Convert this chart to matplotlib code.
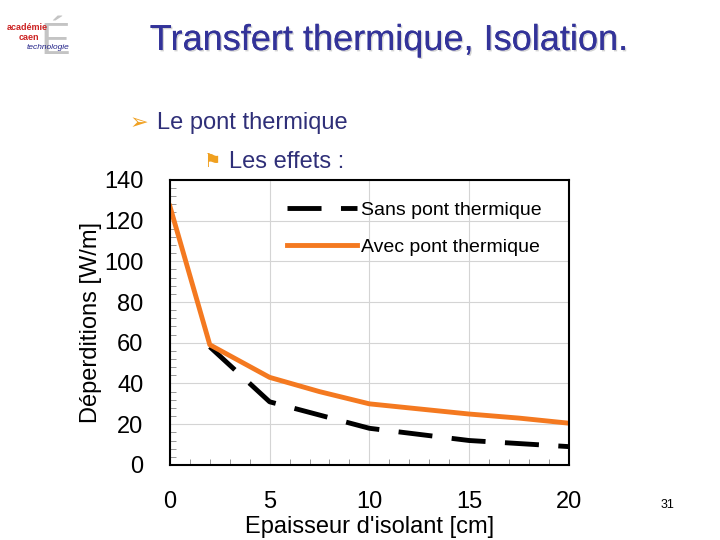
import matplotlib.pyplot as plt
import matplotlib.patheffects as pe
from matplotlib.ticker import MultipleLocator

# data
x_sans = [2, 5, 10, 12.5, 15, 20]
y_sans = [58, 31, 18, 15, 12, 9]
x_avec = [0, 2, 5, 7.5, 10, 12.5, 15, 17.5, 20]
y_avec = [127, 59, 43, 36, 30, 27.5, 25, 23, 20.5]
labels = ['Sans pont thermique', 'Avec pont thermique']

plt.rcParams['font.family'] = ['Liberation Sans', 'DejaVu Sans']
navy = '#2f2f78'
orange = '#f47920'

fig = plt.figure(figsize=(7.2, 5.4), dpi=100)
ax = fig.add_axes([0.236, 0.139, 0.554, 0.528])

ax.plot(x_sans, y_sans, color='black', lw=3.5, dashes=(7, 4), label=labels[0])
ax.plot(x_avec, y_avec, color=orange, lw=3.5, label=labels[1])

ax.set_xlim(0, 20)
ax.set_ylim(0, 140)
ax.xaxis.set_major_locator(MultipleLocator(5))
ax.yaxis.set_major_locator(MultipleLocator(20))
ax.xaxis.set_minor_locator(MultipleLocator(1))
ax.yaxis.set_minor_locator(MultipleLocator(4))
ax.grid(True, which='major', color='#d4d4d4', lw=0.8)
ax.tick_params(which='major', length=0, labelsize=17, pad=19)
ax.tick_params(axis='x', which='major', pad=19)
ax.tick_params(which='minor', direction='in', length=4, color='#888888')
for s in ax.spines.values():
    s.set_linewidth(1.5)

ax.set_xlabel("Epaisseur d'isolant [cm]", fontsize=17, labelpad=2)
ax.set_ylabel('Déperditions [W/m]', fontsize=17)
ax.yaxis.set_label_coords(-0.17, 0.5)

leg = ax.legend(loc='upper left', bbox_to_anchor=(0.25, 0.985), frameon=False,
                fontsize=14, handlelength=3.6, handletextpad=0.2, labelspacing=1.0)

# slide texts
fig.text(0.54, 0.925, 'Transfert thermique, Isolation.', ha='center', va='center',
         fontsize=26, color='#333399',
         path_effects=[pe.withSimplePatchShadow(offset=(1, -1), shadow_rgbFace='#c0c0c0', alpha=0.7), pe.Normal()])
fig.text(0.180, 0.772, '➢', ha='left', va='center', fontsize=16, color='#f0a020',
         family=['DejaVu Sans'])
fig.text(0.218, 0.772, 'Le pont thermique', ha='left', va='center', fontsize=17, color=navy)
fig.text(0.283, 0.700, '⚑', ha='left', va='center', fontsize=14, color='#f0a020',
         family=['DejaVu Sans'])
fig.text(0.318, 0.700, 'Les effets :', ha='left', va='center', fontsize=17, color=navy)
fig.text(0.927, 0.065, '31', ha='center', va='center', fontsize=9)

# logo
fig.text(0.076, 0.922, 'É', ha='center', va='center', fontsize=32, color='#c4c4c4')
fig.text(0.038, 0.950, 'académie', ha='center', va='center', fontsize=6.5, color='#cc2222',
         weight='bold')
fig.text(0.040, 0.931, 'caen', ha='center', va='center', fontsize=6.5, color='#cc2222',
         weight='bold')
fig.text(0.067, 0.912, 'technologie', ha='center', va='center', fontsize=6, color='#222288',
         style='italic')

fig.savefig('out.png', dpi=100)
